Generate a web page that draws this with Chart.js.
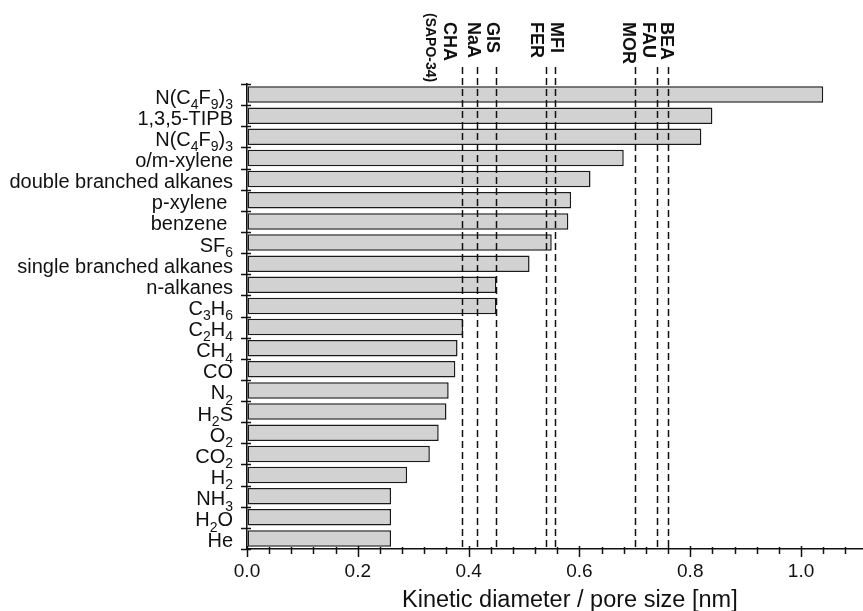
<!DOCTYPE html>
<html>
<head>
<meta charset="utf-8">
<script src="https://cdn.jsdelivr.net/npm/chart.js@4.4.0/dist/chart.umd.min.js"></script>
<style>
  html, body { margin: 0; padding: 0; background: #fff; }
  #wrap { width: 863px; height: 611px; }
</style>
</head>
<body>
<div id="wrap"><canvas id="grafico" width="863" height="611"></canvas></div>
<script>
// --- DATOS ---
// '_' marca el caracter siguiente como subindice
const molecules = ['N(C_4F_9)_3', '1,3,5-TIPB', 'N(C_4F_9)_3', 'o/m-xylene', 'double branched alkanes',
  'p-xylene ', 'benzene ', 'SF_6', 'single branched alkanes', 'n-alkanes', 'C_3H_6', 'C_2H_4', 'CH_4',
  'CO', 'N_2', 'H_2S', 'O_2', 'CO_2', 'H_2', 'NH_3', 'H_2O', 'He'];
const kineticDiameter = [1.04, 0.84, 0.82, 0.68, 0.62, 0.585, 0.58, 0.55, 0.51, 0.45, 0.45, 0.39, 0.38,
  0.376, 0.364, 0.36, 0.346, 0.33, 0.289, 0.26, 0.26, 0.26];

const zeolites = ['CHA', 'NaA', 'GIS', 'FER', 'MFI', 'MOR', 'FAU', 'BEA'];
const zeoliteNotes = ['(SAPO-34)', '', '', '', '', '', '', ''];
const poreSize = [0.388, 0.415, 0.45, 0.54, 0.556, 0.70, 0.74, 0.76];

const xTickLabels = ['0.0', '0.2', '0.4', '0.6', '0.8', '1.0'];
const xTitle = 'Kinetic diameter / pore size [nm]';

const FONT = '"Liberation Sans", Arial, Helvetica, sans-serif';
const INK = '#111';

// desplazamiento en px de cada etiqueta respecto a su linea (para que no se pisen)
const labelShift = [-13, -4, -4, -10, 1, -7, -9, -2];

function isMajor(v) {
  const lbl = v.toFixed(1);
  return Math.abs(v - parseFloat(lbl)) < 1e-6 && xTickLabels.includes(lbl);
}

// texto con subindices
function parseRich(text) {
  const parts = [];
  for (let i = 0; i < text.length; i++) {
    if (text[i] === '_' && i + 1 < text.length) {
      parts.push({ t: text[i + 1], sub: true });
      i++;
    } else {
      const last = parts[parts.length - 1];
      if (last && !last.sub) last.t += text[i];
      else parts.push({ t: text[i], sub: false });
    }
  }
  return parts;
}

function drawRich(ctx, text, rightX, baseY, size) {
  const parts = parseRich(text);
  const mainFont = size + 'px ' + FONT;
  const subFont = Math.round(size * 0.7) + 'px ' + FONT;
  let total = 0;
  parts.forEach(p => {
    ctx.font = p.sub ? subFont : mainFont;
    p.w = ctx.measureText(p.t).width;
    total += p.w;
  });
  let x = rightX - total;
  ctx.textAlign = 'left';
  ctx.textBaseline = 'alphabetic';
  parts.forEach(p => {
    ctx.font = p.sub ? subFont : mainFont;
    ctx.fillText(p.t, x, p.sub ? baseY + size * 0.27 : baseY);
    x += p.w;
  });
}

const ejesPlugin = {
  id: 'ejes',
  beforeDraw(chart) {
    const { ctx, width, height } = chart;
    ctx.save();
    ctx.fillStyle = '#fff';
    ctx.fillRect(0, 0, width, height);
    ctx.restore();
  },
  afterDatasetsDraw(chart) {
    const { ctx, chartArea, scales: { x } } = chart;
    ctx.save();
    ctx.strokeStyle = INK;
    ctx.lineWidth = 1.5;
    ctx.setLineDash([7, 4]);
    poreSize.forEach(v => {
      const px = Math.round(x.getPixelForValue(v)) + 0.5;
      ctx.beginPath();
      ctx.moveTo(px, 67);
      ctx.lineTo(px, chartArea.bottom);
      ctx.stroke();
    });
    ctx.restore();
  },
  afterDraw(chart) {
    const { ctx, chartArea, scales: { x, y } } = chart;
    ctx.save();
    ctx.strokeStyle = INK;
    ctx.fillStyle = INK;
    ctx.lineWidth = 1.5;

    // marcas del eje x
    x.ticks.forEach(t => {
      const px = Math.round(x.getPixelForValue(t.value)) + 0.5;
      const major = isMajor(t.value);
      ctx.beginPath();
      ctx.moveTo(px, chartArea.bottom - (major ? 3 : 2));
      ctx.lineTo(px, chartArea.bottom + (major ? 8 : 5));
      ctx.stroke();
    });

    // marcas del eje y entre categorias
    for (let i = 0; i <= molecules.length; i++) {
      const py = Math.round(y.getPixelForValue(i - 0.5)) + 0.5;
      ctx.beginPath();
      ctx.moveTo(chartArea.left - 6, py);
      ctx.lineTo(chartArea.left + 4, py);
      ctx.stroke();
    }

    // titulo del eje x (algo desplazado a la derecha, como en el original)
    ctx.font = '23.5px ' + FONT;
    ctx.textAlign = 'left';
    ctx.textBaseline = 'alphabetic';
    ctx.fillText(xTitle, 402, 607);

    // nombres de moleculas
    molecules.forEach((m, i) => {
      drawRich(ctx, m, 233, y.getPixelForValue(i) + 9, 20);
    });

    // zeolitas, giradas 90 grados
    zeolites.forEach((z, i) => {
      const px = x.getPixelForValue(poreSize[i]) + labelShift[i];
      ctx.save();
      ctx.translate(px, 22);
      ctx.rotate(Math.PI / 2);
      ctx.font = 'bold 18px ' + FONT;
      ctx.textAlign = 'left';
      ctx.textBaseline = 'middle';
      ctx.fillText(z, 0, 0);
      ctx.restore();
      if (zeoliteNotes[i]) {
        ctx.save();
        ctx.translate(px - 19, 13);
        ctx.rotate(Math.PI / 2);
        ctx.font = 'bold 14px ' + FONT;
        ctx.textAlign = 'left';
        ctx.textBaseline = 'middle';
        ctx.fillText(zeoliteNotes[i], 0, 0);
        ctx.restore();
      }
    });
    ctx.restore();
  }
};

const ctx = document.getElementById('grafico').getContext('2d');
new Chart(ctx, {
  type: 'bar',
  data: {
    labels: molecules,
    datasets: [{
      data: kineticDiameter,
      backgroundColor: '#d2d2d2',
      borderColor: '#1a1a1a',
      borderWidth: 1.5,
      borderSkipped: false,
      barPercentage: 0.78,
      categoryPercentage: 1
    }]
  },
  options: {
    indexAxis: 'y',
    responsive: false,
    animation: false,
    devicePixelRatio: 1,
    layout: { padding: { top: 84, right: 1, left: 0, bottom: 0 } },
    plugins: {
      legend: { display: false },
      tooltip: { enabled: false }
    },
    scales: {
      x: {
        type: 'linear',
        min: 0,
        max: 1.11,
        afterFit: s => { s.height = 62; },
        ticks: {
          stepSize: 0.04,
          includeBounds: false,
          autoSkip: false,
          maxRotation: 0,
          padding: 5,
          color: INK,
          font: { family: FONT, size: 19 },
          callback: v => isMajor(v) ? v.toFixed(1) : ''
        },
        grid: { drawOnChartArea: false, drawTicks: true, tickLength: 6, tickColor: 'rgba(0,0,0,0)' },
        border: { display: true, color: INK, width: 1.5 }
      },
      y: {
        afterFit: s => { s.width = 247; },
        ticks: { display: false },
        grid: { display: false },
        border: { display: true, color: INK, width: 1.5 }
      }
    }
  },
  plugins: [ejesPlugin]
});
</script>
</body>
</html>
